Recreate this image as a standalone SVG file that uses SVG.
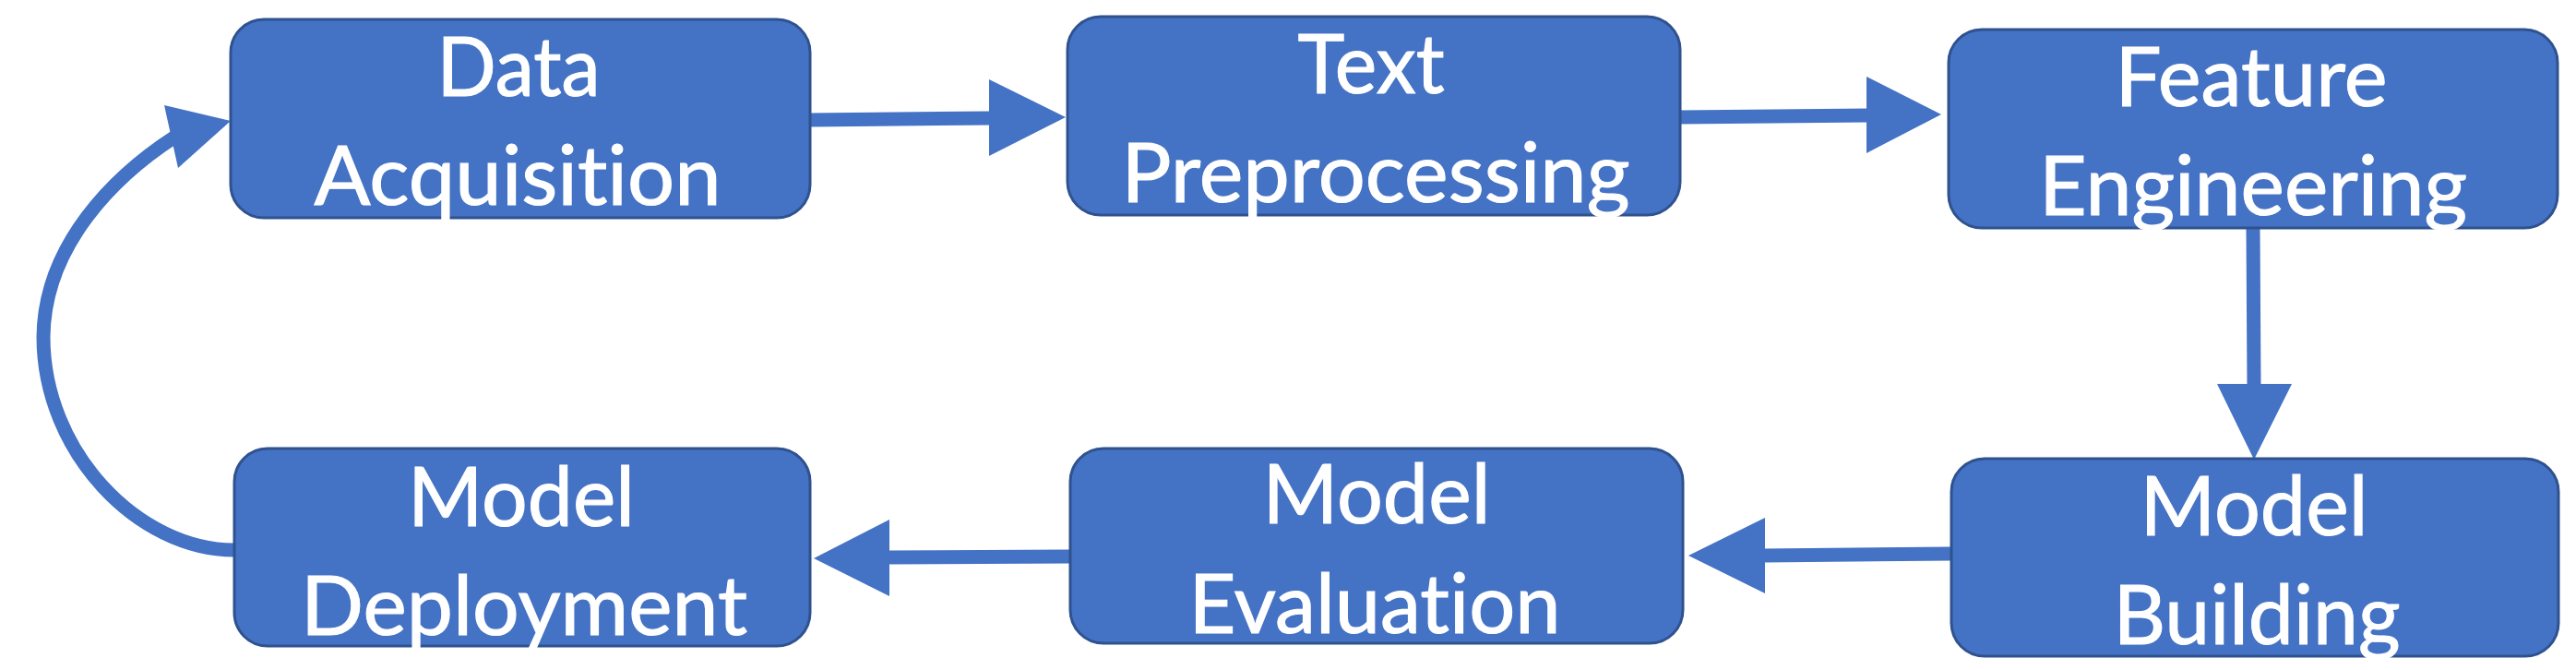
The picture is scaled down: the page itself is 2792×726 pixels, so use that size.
<svg xmlns="http://www.w3.org/2000/svg" width="2792" height="726" viewBox="0 0 2792 726">
<style>
.box{fill:#4472C4;stroke:#2F528F;stroke-width:3}
.lbl{font-family:Lato,"Open Sans","Liberation Sans",sans-serif;font-size:89px;fill:#FFFFFF;stroke:#FFFFFF;stroke-width:1.1;text-anchor:middle;font-variant-ligatures:none}
.shaft{stroke:#4472C4;stroke-width:15;fill:none}
.head{fill:#4472C4}
</style>
<rect width="2792" height="726" fill="#FFFFFF"/>
<g id="connectors">
<path class="shaft" d="M878 130 L1074 128"/>
<polygon class="head" points="1072,86 1155,127 1072,169"/>
<path class="shaft" d="M1821 127 L2025 125"/>
<polygon class="head" points="2023,83 2104,124 2023,166"/>
<path class="shaft" d="M2442 247 L2443 418"/>
<polygon class="head" points="2403,416 2484,416 2443,498"/>
<path class="shaft" d="M2115 600 L1911 602"/>
<polygon class="head" points="1913,561 1830,602 1913,643"/>
<path class="shaft" d="M1160 603 L962 604"/>
<polygon class="head" points="964,563 882,605 964,646"/>
<path class="shaft" stroke-width="12" d="M254 596 C150 596 47 490 47 365 C48 265 125 190 190 148"/>
<polygon class="head" points="250,131 178,114 193,182"/>
</g>
<g id="node-data-acquisition">
<rect class="box" x="250" y="21" width="628" height="215" rx="36"/>
<text class="lbl" x="562" y="104" textLength="177" lengthAdjust="spacingAndGlyphs">Data</text>
<text class="lbl" x="561" y="222" textLength="441" lengthAdjust="spacingAndGlyphs">Acquisition</text>
</g>
<g id="node-text-preprocessing">
<rect class="box" x="1157" y="18" width="664" height="215" rx="36"/>
<text class="lbl" x="1486" y="101" textLength="159" lengthAdjust="spacingAndGlyphs">Text</text>
<text class="lbl" x="1491" y="219" textLength="551" lengthAdjust="spacingAndGlyphs">Preprocessing</text>
</g>
<g id="node-feature-engineering">
<rect class="box" x="2112" y="32" width="660" height="215" rx="36"/>
<text class="lbl" x="2440" y="115" textLength="295" lengthAdjust="spacingAndGlyphs">Feature</text>
<text class="lbl" x="2442" y="233" textLength="464" lengthAdjust="spacingAndGlyphs">Engineering</text>
</g>
<g id="node-model-building">
<rect class="box" x="2115" y="497" width="658" height="214" rx="36"/>
<text class="lbl" x="2443" y="580" textLength="247" lengthAdjust="spacingAndGlyphs">Model</text>
<text class="lbl" x="2446" y="698" textLength="311" lengthAdjust="spacingAndGlyphs">Building</text>
</g>
<g id="node-model-evaluation">
<rect class="box" x="1160" y="486" width="664" height="211" rx="36"/>
<text class="lbl" x="1492" y="567" textLength="247" lengthAdjust="spacingAndGlyphs">Model</text>
<text class="lbl" x="1490" y="686" textLength="403" lengthAdjust="spacingAndGlyphs">Evaluation</text>
</g>
<g id="node-model-deployment">
<rect class="box" x="254" y="486" width="624" height="214" rx="36"/>
<text class="lbl" x="565" y="570" textLength="246" lengthAdjust="spacingAndGlyphs">Model</text>
<text class="lbl" x="568" y="688" textLength="484" lengthAdjust="spacingAndGlyphs">Deployment</text>
</g>
</svg>
